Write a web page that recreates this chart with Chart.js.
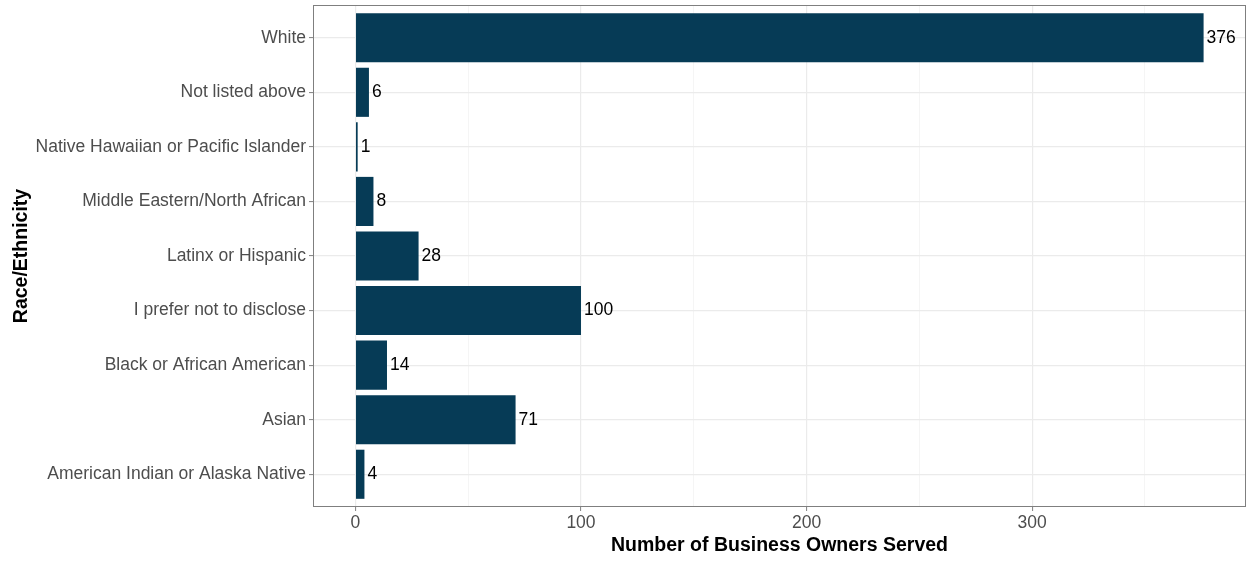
<!DOCTYPE html>
<html>
<head>
<meta charset="utf-8">
<script src="https://cdn.jsdelivr.net/npm/chart.js@4"></script>
<style>
  html,body{margin:0;padding:0;background:#fff;}
  #wrap{width:1249px;height:562px;}
</style>
</head>
<body>
<div id="wrap"><canvas id="chart" width="1249" height="562"></canvas></div>
<script>
// categories bottom -> top (ggplot order)
const categories = [
  'American Indian or Alaska Native',
  'Asian',
  'Black or African American',
  'I prefer not to disclose',
  'Latinx or Hispanic',
  'Middle Eastern/North African',
  'Native Hawaiian or Pacific Islander',
  'Not listed above',
  'White'
];
const counts = [4, 71, 14, 100, 28, 8, 1, 6, 376];
const xTicks = [0, 50, 100, 150, 200, 250, 300, 350];

const FONT = "'Liberation Sans', Arial, sans-serif";
const BAR = '#063b56';
const GRID = '#ebebeb';

function el(id){return document.getElementById(id);}

// ggplot-like expansion
const xMin = -0.05 * 376, xMax = 376 * 1.05;

// panel border + value labels
const panelPlugin = {
  id: 'panel',
  afterDatasetsDraw(chart){
    const ctx = chart.ctx, a = chart.chartArea;
    ctx.save();
    ctx.strokeStyle = '#7f7f7f';
    ctx.lineWidth = 1;
    ctx.strokeRect(a.left + 0.5, a.top + 0.5, a.right - a.left - 1, a.bottom - a.top - 1);
    ctx.fillStyle = '#000';
    ctx.font = '17.5px ' + FONT;
    ctx.textAlign = 'left';
    ctx.textBaseline = 'middle';
    chart.getDatasetMeta(0).data.forEach((bar, i) => {
      ctx.fillText(String(counts[i]), bar.x + 3, bar.y);
    });
    ctx.restore();
  }
};

new Chart(el('chart').getContext('2d'), {
  type: 'bar',
  data: {
    datasets: [{
      data: counts.map((v, i) => ({x: v, y: i + 1})),
      backgroundColor: BAR,
      borderWidth: 0,
      barPercentage: 0.9,
      categoryPercentage: 1
    }]
  },
  options: {
    indexAxis: 'y',
    responsive: false,
    animation: false,
    layout: {padding: {top: 5, right: 3, left: 0, bottom: 0}},
    plugins: {legend: {display: false}, tooltip: {enabled: false}},
    scales: {
      x: {
        type: 'linear',
        min: xMin, max: xMax,
        afterBuildTicks: s => { s.ticks = xTicks.map(v => ({value: v})); },
        afterFit: s => { s.height = 55; },
        border: {display: false},
        grid: {
          color: c => (c.tick && c.tick.value % 100 === 0) ? GRID : '#f3f3f3',
          lineWidth: c => (c.tick && c.tick.value % 100 === 0) ? 1.2 : 0.8,
          tickColor: c => (c.tick && c.tick.value % 100 === 0) ? '#7f7f7f' : 'rgba(0,0,0,0)',
          tickLength: 4,
          tickWidth: 1
        },
        ticks: {
          autoSkip: false,
          maxRotation: 0,
          padding: 2,
          color: '#4d4d4d',
          font: {family: FONT, size: 17.5},
          callback: v => v % 100 === 0 ? v : ''
        },
        title: {
          display: true,
          text: 'Number of Business Owners Served',
          color: '#000',
          font: {family: FONT, size: 19.5, weight: 'bold'},
          padding: {top: 0, bottom: 5}
        }
      },
      y: {
        type: 'linear',
        offset: false,
        min: 0.4, max: categories.length + 0.6,
        afterBuildTicks: s => { s.ticks = categories.map((_, i) => ({value: i + 1})); },
        afterFit: s => { s.width = 313; s.paddingTop = 0; s.paddingBottom = 0; },
        border: {display: false},
        grid: {
          offset: false,
          color: GRID,
          lineWidth: 1.2,
          tickColor: '#7f7f7f',
          tickLength: 4,
          tickWidth: 1
        },
        ticks: {
          autoSkip: false,
          padding: 3,
          color: '#4d4d4d',
          font: {family: FONT, size: 17.5},
          callback: v => categories[v - 1]
        },
        title: {
          display: true,
          text: 'Race/Ethnicity',
          color: '#000',
          font: {family: FONT, size: 19.5, weight: 'bold'},
          padding: {top: 10, bottom: 0}
        }
      }
    }
  },
  plugins: [panelPlugin]
});
</script>
</body>
</html>
